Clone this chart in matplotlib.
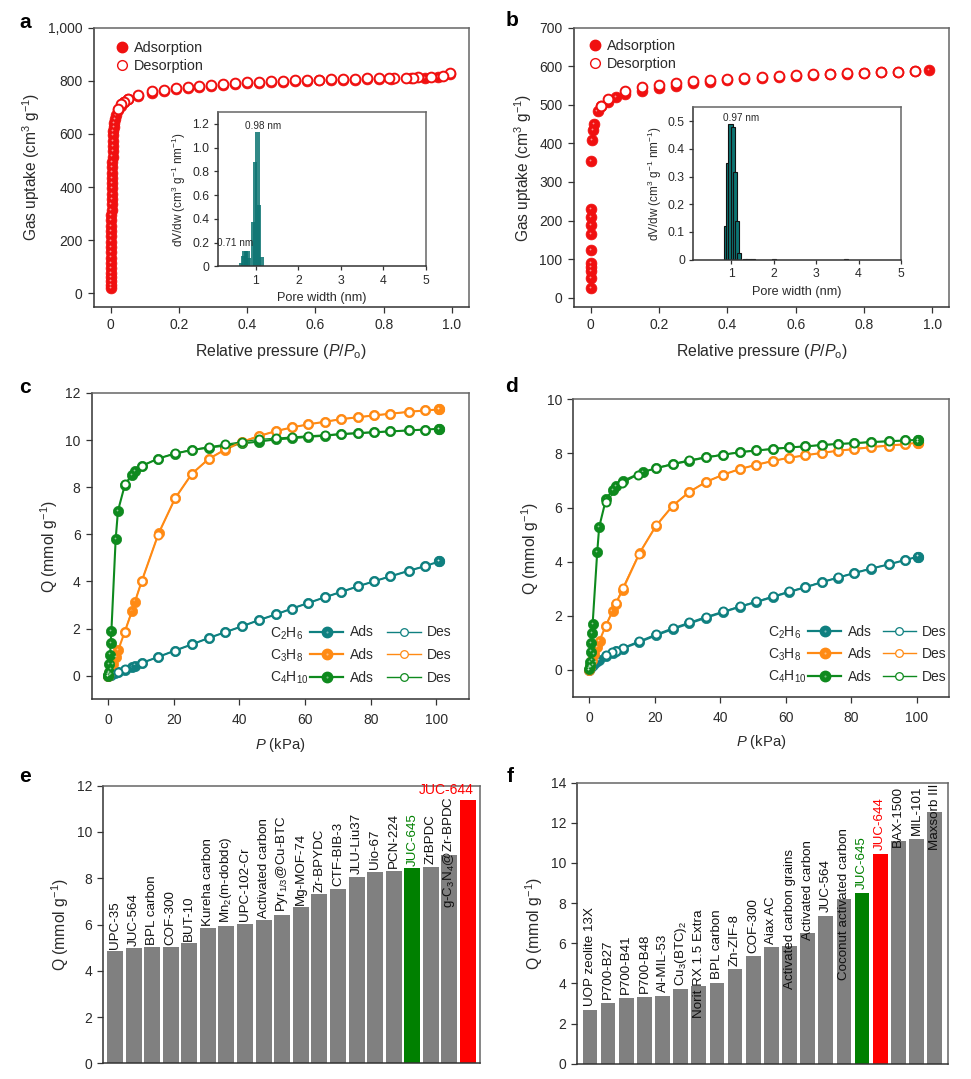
#!/usr/bin/env python3
"""Six-panel adsorption figure: isotherms, pore-size insets and uptake bars."""
import matplotlib

matplotlib.use("Agg")
import matplotlib.pyplot as plt
from matplotlib.lines import Line2D
from matplotlib.legend_handler import HandlerTuple
from matplotlib.transforms import ScaledTranslation

W, H = 971, 1079

RED = "#f01010"
TEAL = "#0f8080"
ORANGE = "#ff8a14"
GREEN = "#0e8a1e"
INK = "#2a2a2a"

# panel a, N2-type isotherm
A_ADS_X = [0.0002, 0.0003, 0.0004, 0.0005, 0.0005, 0.0006, 0.0006, 0.0007, 0.0008, 0.0009,
           0.0010, 0.0012, 0.0014, 0.0016, 0.0018, 0.0020, 0.0022, 0.0024, 0.0026, 0.0028,
           0.0030, 0.0033, 0.0036, 0.0040, 0.0044, 0.0048, 0.0052, 0.0056, 0.0060, 0.0066,
           0.0072, 0.0080, 0.0090, 0.0100, 0.0120, 0.0150, 0.0200, 0.0300, 0.0400, 0.0500,
           0.0800, 0.1200, 0.1550, 0.1900, 0.2250, 0.2600, 0.2950, 0.3300, 0.3650, 0.4000,
           0.4350, 0.4700, 0.5050, 0.5400, 0.5750, 0.6100, 0.6450, 0.6800, 0.7150, 0.7500,
           0.7850, 0.8200, 0.8800, 0.9200, 0.9600, 0.9950]
A_ADS_Y = [20, 30, 45, 60, 75, 95, 115, 135, 155, 175,
           195, 215, 235, 255, 275, 295, 315, 335, 355, 375,
           395, 415, 435, 455, 475, 495, 515, 535, 555, 575,
           595, 610, 625, 640, 655, 670, 690, 707, 720, 730,
           743, 755, 763, 769, 774, 778, 782, 785, 788, 791,
           793, 795, 797, 798, 800, 802, 803, 804, 805, 806,
           807, 808, 809, 812, 815, 826]
A_DES_X = [0.9950, 0.9750, 0.9400, 0.9000, 0.8850, 0.8650, 0.8300, 0.8150, 0.7850, 0.7500,
           0.7150, 0.6800, 0.6450, 0.6100, 0.5750, 0.5400, 0.5050, 0.4700, 0.4350, 0.4000,
           0.3650, 0.3300, 0.2950, 0.2600, 0.2250, 0.1900, 0.1550, 0.1200, 0.0800, 0.0500,
           0.0400, 0.0300, 0.0200]
A_DES_Y = [828, 818, 815, 814, 812, 812, 811, 810, 810, 809,
           808, 807, 806, 805, 804, 803, 801, 798, 796, 794,
           792, 789, 786, 782, 778, 773, 767, 760, 747, 733,
           722, 712, 695]

# panel b
B_ADS_X = [0.0002, 0.0002, 0.0003, 0.0003, 0.0004, 0.0004, 0.0005, 0.0005, 0.0006, 0.0006,
           0.0010, 0.0040, 0.0060, 0.0090, 0.0200, 0.0300, 0.0500, 0.0750, 0.1000, 0.1500,
           0.2000, 0.2500, 0.3000, 0.3500, 0.4000, 0.4500, 0.5000, 0.5500, 0.6000, 0.6500,
           0.7000, 0.7500, 0.8000, 0.8500, 0.9000, 0.9500, 0.9900]
B_ADS_Y = [24, 51, 70, 80, 90, 123, 164, 189, 210, 230,
           354, 409, 434, 449, 485, 497, 508, 520, 527, 537,
           544, 550, 556, 560, 564, 567, 570, 572, 575, 577,
           579, 580, 582, 584, 586, 588, 590]
B_DES_X = [0.9500, 0.9000, 0.8500, 0.8000, 0.7500, 0.7000, 0.6500, 0.6000, 0.5500, 0.5000,
           0.4500, 0.4000, 0.3500, 0.3000, 0.2500, 0.2000, 0.1500, 0.1000, 0.0500, 0.0300]
B_DES_Y = [589, 586, 585, 583, 582, 581, 580, 578, 575, 573,
           570, 568, 565, 561, 557, 552, 545, 535, 515, 497]

# inset pore-size histograms
INSET_A_X = [0.65, 0.69, 0.73, 0.77, 0.80, 0.83, 0.94, 0.98, 1.04, 1.08, 1.14]
INSET_A_Y = [0.03, 0.09, 0.13, 0.13, 0.13, 0.07, 0.37, 0.88, 1.13, 0.52, 0.08]
INSET_B_X = [0.87, 0.92, 0.98, 1.03, 1.08, 1.13, 1.18, 1.32, 1.40, 1.50, 2.00, 3.70]
INSET_B_Y = [0.122, 0.350, 0.490, 0.480, 0.315, 0.138, 0.023, 0.002, 0.003, 0.002, 0.003, 0.001]

# panel c
C_P_C2 = [0, 0.5, 1, 2, 3, 5, 7.2, 8.2, 10.2, 15.3, 20.4, 25.5, 30.6, 35.7, 40.8, 45.9,
          51, 56, 61, 66, 71, 76, 81, 86, 91.5, 96.5, 100.8]
C_Q_C2 = [0, 0.02, 0.05, 0.10, 0.16, 0.26, 0.38, 0.43, 0.54, 0.80, 1.07, 1.33, 1.60, 1.85, 2.10, 2.36,
          2.60, 2.85, 3.09, 3.33, 3.56, 3.79, 4.01, 4.22, 4.45, 4.65, 4.85]
C_P_C3 = [0, 0.3, 0.8, 1.5, 2.4, 3.1, 5, 7.3, 8.2, 10.2, 15.4, 20.4, 25.5, 30.6, 35.7, 40.8, 45.9,
          51, 56, 61, 66, 71, 76, 81, 86, 91.5, 96.5, 100.8]
C_Q_C3 = [0, 0.10, 0.30, 0.50, 0.78, 1.10, 1.84, 2.75, 3.15, 4.00, 6.05, 7.53, 8.57, 9.20, 9.60, 9.92, 10.17,
          10.38, 10.54, 10.67, 10.78, 10.89, 10.97, 11.05, 11.12, 11.20, 11.26, 11.30]
C_P_C4 = [0, 0.1, 0.2, 0.4, 0.6, 0.8, 1, 2.3, 3, 5.1, 7.2, 8.2, 10.2, 15.3, 20.4, 25.5, 30.6, 35.7, 40.8, 45.9,
          51, 56, 61, 66, 71, 76, 81, 86, 91.5, 96.5, 100.8]
C_Q_C4 = [0, 0.05, 0.17, 0.50, 0.90, 1.38, 1.90, 5.80, 7.00, 8.10, 8.53, 8.70, 8.90, 9.22, 9.43, 9.58, 9.68, 9.77, 9.86, 9.94,
          10.03, 10.08, 10.14, 10.19, 10.25, 10.29, 10.33, 10.37, 10.41, 10.45, 10.48]
C_DES_P_C2 = [96.5, 91.5, 86, 81, 76, 71, 66, 61, 56, 51, 45.9, 40.8, 35.7, 30.6, 25.5, 20.4, 15.3, 10.2, 5, 3]
C_DES_Q_C2 = [4.66, 4.45, 4.22, 4.01, 3.79, 3.56, 3.33, 3.09, 2.85, 2.60, 2.36, 2.10, 1.85, 1.60, 1.33, 1.07, 0.80, 0.54, 0.27, 0.16]
C_DES_P_C3 = [96.5, 91.5, 86, 81, 76, 71, 66, 61, 56, 51, 45.9, 40.8, 35.7, 30.6, 25.5, 20.4, 15.2, 10.2, 5]
C_DES_Q_C3 = [11.26, 11.20, 11.12, 11.05, 10.97, 10.89, 10.78, 10.67, 10.54, 10.38, 10.18, 9.94, 9.62, 9.20, 8.57, 7.53, 5.98, 4.00, 1.84]
C_DES_P_C4 = [96.5, 91.5, 86, 81, 76, 71, 66, 61, 56, 51, 45.9, 40.8, 35.7, 30.6, 25.5, 20.4, 15.3, 10.2, 5.1]
C_DES_Q_C4 = [10.45, 10.42, 10.38, 10.35, 10.31, 10.27, 10.22, 10.18, 10.13, 10.08, 10.03, 9.93, 9.82, 9.71, 9.59, 9.44, 9.22, 8.91, 8.12]

# panel d
D_P_C2 = [0, 0.5, 1, 2, 3, 5, 7.2, 8.2, 10.2, 15.3, 20.4, 25.5, 30.6, 35.7, 40.8, 45.9,
          51, 56, 61, 66, 71, 76, 81, 86, 91.5, 96.5, 100.5]
D_Q_C2 = [0, 0.10, 0.18, 0.30, 0.38, 0.52, 0.63, 0.69, 0.79, 1.03, 1.28, 1.51, 1.72, 1.93, 2.13, 2.33,
          2.51, 2.69, 2.88, 3.05, 3.24, 3.41, 3.58, 3.74, 3.90, 4.06, 4.19]
D_P_C3 = [0, 0.2, 0.8, 1.5, 2.4, 3.1, 5, 7.1, 8.1, 10.2, 15.4, 20.4, 25.5, 30.6, 35.7, 40.8, 45.9,
          51, 56, 61, 66, 71, 76, 81, 86, 91.5, 96.5, 100.5]
D_Q_C3 = [0, 0.10, 0.38, 0.60, 0.83, 1.08, 1.63, 2.17, 2.45, 2.97, 4.33, 5.33, 6.07, 6.58, 6.95, 7.21, 7.42,
          7.58, 7.72, 7.84, 7.93, 8.02, 8.10, 8.16, 8.23, 8.29, 8.34, 8.40]
D_P_C4 = [0, 0.1, 0.2, 0.4, 0.6, 0.8, 1, 2.4, 3, 5.1, 7.2, 8.2, 10.2, 16.4, 20.4, 25.5, 30.6, 35.7, 40.8, 45.9,
          51, 56, 61, 66, 71, 76, 81, 86, 91.5, 96.5, 100.5]
D_Q_C4 = [0.05, 0.15, 0.30, 0.68, 1.00, 1.35, 1.70, 4.35, 5.28, 6.32, 6.65, 6.78, 6.98, 7.32, 7.45, 7.60, 7.73, 7.85, 7.95, 8.04,
          8.11, 8.16, 8.22, 8.26, 8.31, 8.35, 8.38, 8.42, 8.45, 8.48, 8.50]
D_DES_P_C2 = [96.5, 91.5, 86, 81, 76, 71, 66, 61, 56, 51, 45.9, 40.8, 35.7, 30.6, 25.5, 20.4, 15.3, 10.2, 8, 7, 5]
D_DES_Q_C2 = [4.07, 3.90, 3.75, 3.59, 3.42, 3.25, 3.07, 2.90, 2.72, 2.53, 2.35, 2.16, 1.97, 1.76, 1.55, 1.32, 1.07, 0.82, 0.71, 0.65, 0.54]
D_DES_P_C3 = [96.5, 91.5, 86, 81, 76, 71, 66, 61, 56, 51, 45.9, 40.8, 35.7, 30.6, 25.5, 20.4, 15.2, 10.2, 8.1, 5]
D_DES_Q_C3 = [8.34, 8.29, 8.24, 8.17, 8.10, 8.02, 7.93, 7.84, 7.72, 7.58, 7.42, 7.21, 6.95, 6.59, 6.07, 5.34, 4.30, 3.03, 2.47, 1.63]
D_DES_P_C4 = [96.5, 91.5, 86, 81, 76, 71, 66, 61, 56, 51, 45.9, 40.8, 35.7, 30.6, 25.5, 20.4, 15, 10, 5]
D_DES_Q_C4 = [8.48, 8.45, 8.42, 8.38, 8.35, 8.31, 8.27, 8.23, 8.17, 8.12, 8.05, 7.96, 7.87, 7.76, 7.62, 7.47, 7.22, 6.90, 6.20]

# panel e
E_NAMES = ["UPC-35", "JUC-564", "BPL carbon", "COF-300", "BUT-10", "Kureha carbon",
           "Mn$_2$(m-dobdc)", "UPC-102-Cr", "Activated carbon", "Pyr$_{1/3}$@Cu-BTC",
           "Mg-MOF-74", "Zr-BPYDC", "CTF-BIB-3", "JLU-Liu37", "Uio-67", "PCN-224",
           "JUC-645", "ZrBPDC", "g-C$_3$N$_4$@Zr-BPDC", "JUC-644"]
E_VALUES = [4.85, 4.98, 5.03, 5.03, 5.20, 5.85, 5.95, 6.03, 6.20, 6.42,
            6.75, 7.30, 7.55, 8.07, 8.28, 8.33, 8.45, 8.50, 9.00, 11.40]

# panel f
F_NAMES = ["UOP zeolite 13X", "P700-B27", "P700-B41", "P700-B48", "Al-MIL-53",
           "Cu$_3$(BTC)$_2$", "Norit RX 1.5 Extra", "BPL carbon", "Zn-ZIF-8", "COF-300",
           "Aiax AC", "Activated carbon grains", "Activated carbon", "JUC-564",
           "Coconut activated carbon", "JUC-645", "JUC-644", "BAX-1500", "MIL-101",
           "Maxsorb III"]
F_VALUES = [2.67, 3.03, 3.27, 3.32, 3.37, 3.70, 3.85, 4.02, 4.70, 5.35,
            5.80, 5.85, 6.52, 7.38, 8.20, 8.50, 10.45, 11.10, 11.20, 12.52]

# labels that the original sets down into or away from their bars
E_LABEL_BASE = {"g-C$_3$N$_4$@Zr-BPDC": 6.7}
F_LABEL_BASE = {"Norit RX 1.5 Extra": 2.26, "Activated carbon grains": 3.7,
                "Activated carbon": 6.16, "Coconut activated carbon": 4.17,
                "BAX-1500": 10.78, "Maxsorb III": 10.65}


def place(fig, left, top, right, bottom):
    """Axes from reference pixel edges."""
    return fig.add_axes([left / W, 1 - bottom / H, (right - left) / W, (bottom - top) / H])


def frame(ax, ticksize=10):
    for side in ("top", "right"):
        ax.spines[side].set_color("#666666")
    for side in ("left", "bottom"):
        ax.spines[side].set_color("#333333")
    for s in ax.spines.values():
        s.set_linewidth(1.1)
    ax.tick_params(top=False, right=False, length=4, width=0.9, color="#333333",
                   labelsize=ticksize, labelcolor=INK, pad=4)


def ball(ax, x, y, color, ms=7.0, lw=1.4, line=True):
    ax.plot(x, y, ls="-" if line else "none", color=color, lw=lw, marker="o", ms=ms,
            mfc=color, mec=color, mew=0.5, zorder=3)
    # small glint up and to the left of each marker centre
    shift = ScaledTranslation(-0.8 / 72, 0.8 / 72, ax.figure.dpi_scale_trans)
    ax.plot(x, y, ls="none", marker="o", ms=ms * 0.17, mfc="white", mec="none", alpha=0.55,
            zorder=3.1, transform=ax.transData + shift)


def ring(ax, x, y, color, ms=6.6, lw=1.0, line=True):
    ax.plot(x, y, ls="-" if line else "none", color=color, lw=lw, marker="o", ms=ms,
            mfc="white", mec=color, mew=1.4, zorder=4)


def ball_handle(color, ms=7.5, lw=1.6):
    return (Line2D([], [], color=color, lw=lw, marker="o", ms=ms, mfc=color, mec=color),
            Line2D([], [], ls="none", marker="o", ms=ms * 0.2, mfc="white", mec="none", alpha=0.45))


def pressure_legend(fig, ax, x_px, top_px, species_x_px, colspace):
    colors = [TEAL, ORANGE, GREEN]
    handles = [ball_handle(c) for c in colors]
    handles += [Line2D([], [], color=c, lw=1.0, marker="o", ms=5.5, mfc="white", mec=c, mew=0.9)
                for c in colors]
    ax.legend(handles, ["Ads"] * 3 + ["Des"] * 3, ncol=2, frameon=False, fontsize=10,
              handler_map={tuple: HandlerTuple(ndivide=1, pad=0)},
              loc="upper left", bbox_to_anchor=(x_px / W, 1 - top_px / H),
              bbox_transform=fig.transFigure, borderpad=0, borderaxespad=0,
              handlelength=2.4, handletextpad=0.45, columnspacing=colspace, labelspacing=0.62,
              labelcolor=INK)
    for i, name in enumerate(["C$_2$H$_6$", "C$_3$H$_8$", "C$_4$H$_{10}$"]):
        fig.text(species_x_px / W, 1 - (top_px + 8 + i * 22.3) / H, name, fontsize=10,
                 color=INK, ha="left", va="center")


def isotherm_panel(fig, rect, ads_x, ads_y, des_x, des_y, yticks, ylabels, ylim, legend_xy):
    ax = place(fig, *rect)
    ball(ax, ads_x, ads_y, RED, ms=7.8, line=False)
    ring(ax, des_x, des_y, RED, ms=7.0, line=False)
    ax.set_xlim(-0.05, 1.05)
    ax.set_ylim(*ylim)
    ax.set_xticks([0, 0.2, 0.4, 0.6, 0.8, 1.0], ["0", "0.2", "0.4", "0.6", "0.8", "1.0"])
    ax.set_yticks(yticks, ylabels)
    ax.set_xlabel("Relative pressure ($\\mathit{P}$/$\\mathit{P}_\\mathrm{o}$)", fontsize=11.4,
                  color=INK, labelpad=7)
    ax.set_ylabel("Gas uptake (cm$^3$ g$^{-1}$)", fontsize=11.2, color=INK, labelpad=4)
    frame(ax)
    handles = [Line2D([], [], ls="none", marker="o", ms=7.5, mfc=RED, mec=RED),
               Line2D([], [], ls="none", marker="o", ms=7, mfc="white", mec=RED, mew=1.0)]
    ax.legend(handles, ["Adsorption", "Desorption"], frameon=False, fontsize=10.4, labelcolor=INK,
              loc="upper left", bbox_to_anchor=(legend_xy[0] / W, 1 - legend_xy[1] / H),
              bbox_transform=fig.transFigure, borderpad=0, borderaxespad=0,
              handlelength=1.0, handletextpad=0.3, labelspacing=0.28)
    return ax


def inset(fig, rect, x, y, edge, alpha, yticks, ylabels, ymax, notes):
    ax = place(fig, *rect)
    ax.bar(x, y, width=0.1, color="#0d7472", edgecolor=edge, linewidth=0.8, alpha=alpha)
    ax.set_xlim(0.1, 5)
    ax.set_ylim(0, ymax)
    ax.set_xticks([1, 2, 3, 4, 5])
    ax.set_yticks(yticks, ylabels)
    ax.set_xlabel("Pore width (nm)", fontsize=9.1, color=INK, labelpad=4)
    ax.set_ylabel("dV/dw (cm$^3$ g$^{-1}$ nm$^{-1}$)", fontsize=8.5, color=INK, labelpad=3)
    frame(ax, ticksize=8.8)
    ax.tick_params(length=3, pad=3)
    for tx, ty, s in notes:
        ax.text(tx, ty, s, fontsize=7.2, color=INK, ha="center", va="center")
    return ax


def pressure_panel(fig, rect, series, des, legend_at):
    ax = place(fig, *rect)
    for (x, y), (dx, dy), c in zip(series, des, (TEAL, ORANGE, GREEN)):
        ball(ax, x, y, c, ms=7.4, lw=1.5)
        ring(ax, dx, dy, c, ms=5.8, lw=0.9)
        ball(ax, x[-1:], y[-1:], c, ms=7.6, line=False)
    ax.set_xlim(-5, 110)
    ax.set_xticks([0, 20, 40, 60, 80, 100])
    ax.set_xlabel("$\\mathit{P}$ (kPa)", fontsize=10.6, color=INK, labelpad=6)
    ax.set_ylabel("Q (mmol g$^{-1}$)", fontsize=11.3, color=INK, labelpad=4)
    frame(ax)
    ax.tick_params(axis="x", pad=6)
    pressure_legend(fig, ax, *legend_at)
    return ax


def bar_panel(fig, rect, names, values, xlim, width, yticks, overrides, lift):
    ax = place(fig, *rect)
    colors = [{"JUC-645": "#008000", "JUC-644": "#ff0000"}.get(n, "#808080") for n in names]
    idx = list(range(len(names)))
    ax.bar(idx, values, width=width, color=colors)
    for i, n, v in zip(idx, names, values):
        color = {"JUC-645": "#008000", "JUC-644": "#ff0000"}.get(n, "#111111")
        ax.text(i, overrides.get(n, v + lift), n, rotation=90, ha="center", va="bottom",
                fontsize=9.6, color=color)
    ax.set_xlim(*xlim)
    ax.set_ylim(0, yticks[-1])
    ax.set_xticks([])
    ax.set_yticks(yticks)
    ax.set_ylabel("Q (mmol g$^{-1}$)", fontsize=11.3, color=INK, labelpad=4)
    frame(ax)
    return ax


def main():
    plt.rcParams.update({
        "font.family": ["Liberation Sans", "DejaVu Sans"],
        "mathtext.fontset": "custom",
        "mathtext.rm": "Liberation Sans",
        "mathtext.it": "Liberation Sans:italic",
        "mathtext.bf": "Liberation Sans:bold",
        "mathtext.default": "regular",
    })
    fig = plt.figure(figsize=(W / 100, H / 100), dpi=100)

    isotherm_panel(fig, (93.7, 27.7, 469, 306.7), A_ADS_X, A_ADS_Y, A_DES_X, A_DES_Y,
                   [0, 200, 400, 600, 800, 1000], ["0", "200", "400", "600", "800", "1,000"],
                   (-50, 1000), (115, 41))
    isotherm_panel(fig, (573.7, 27.7, 949.3, 307.3), B_ADS_X, B_ADS_Y, B_DES_X, B_DES_Y,
                   [0, 100, 200, 300, 400, 500, 600, 700],
                   ["0", "100", "200", "300", "400", "500", "600", "700"],
                   (-25, 700), (588, 39))
    inset(fig, (217.7, 112, 425.7, 266.3), INSET_A_X, INSET_A_Y, "none", 0.85,
          [0, 0.2, 0.4, 0.6, 0.8, 1.0, 1.2], ["0", "0.2", "0.4", "0.6", "0.8", "1.0", "1.2"], 1.3,
          [(1.17, 1.18, "0.98 nm"), (0.5, 0.2, "0.71 nm")])
    inset(fig, (693.3, 107.3, 901, 259.7), INSET_B_X, INSET_B_Y, "#111111", 1.0,
          [0, 0.1, 0.2, 0.3, 0.4, 0.5], ["0", "0.1", "0.2", "0.3", "0.4", "0.5"], 0.55,
          [(1.23, 0.51, "0.97 nm")])

    ax = pressure_panel(fig, (91.7, 393, 469.3, 699.3),
                        [(C_P_C2, C_Q_C2), (C_P_C3, C_Q_C3), (C_P_C4, C_Q_C4)],
                        [(C_DES_P_C2, C_DES_Q_C2), (C_DES_P_C3, C_DES_Q_C3), (C_DES_P_C4, C_DES_Q_C4)],
                        (310, 625.5, 270, 1.0))
    ax.set_ylim(-1, 12)
    ax.set_yticks([0, 2, 4, 6, 8, 10, 12])
    ax = pressure_panel(fig, (573, 399.3, 949.3, 697),
                        [(D_P_C2, D_Q_C2), (D_P_C3, D_Q_C3), (D_P_C4, D_Q_C4)],
                        [(D_DES_P_C2, D_DES_Q_C2), (D_DES_P_C3, D_DES_Q_C3), (D_DES_P_C4, D_DES_Q_C4)],
                        (808, 624.5, 768, 0.8))
    ax.set_ylim(-1, 10)
    ax.set_yticks([0, 2, 4, 6, 8, 10])

    ax = bar_panel(fig, (103.3, 785.7, 480.3, 1063.3), E_NAMES, E_VALUES, (-0.63, 19.66), 0.86,
                   [0, 2, 4, 6, 8, 10, 12], E_LABEL_BASE, 0.1)
    # the tallest bar carries its name flat above it
    ax.texts[-1].remove()
    ax.text(19.32, 11.5, E_NAMES[-1], fontsize=10, color="#ff0000", ha="right", va="bottom")
    bar_panel(fig, (577.3, 782.7, 947.7, 1063.7), F_NAMES, F_VALUES, (-0.7, 19.72), 0.81,
              [0, 2, 4, 6, 8, 10, 12, 14], F_LABEL_BASE, 0.18)

    for s, x, y in [("a", 25, 22), ("b", 512, 21), ("c", 25, 388),
                    ("d", 512, 387), ("e", 25, 777), ("f", 510, 776)]:
        fig.text(x / W, 1 - y / H, s, fontsize=15, fontweight="bold", color="black",
                 ha="center", va="center")

    fig.savefig("out.png", dpi=100)


if __name__ == "__main__":
    main()
